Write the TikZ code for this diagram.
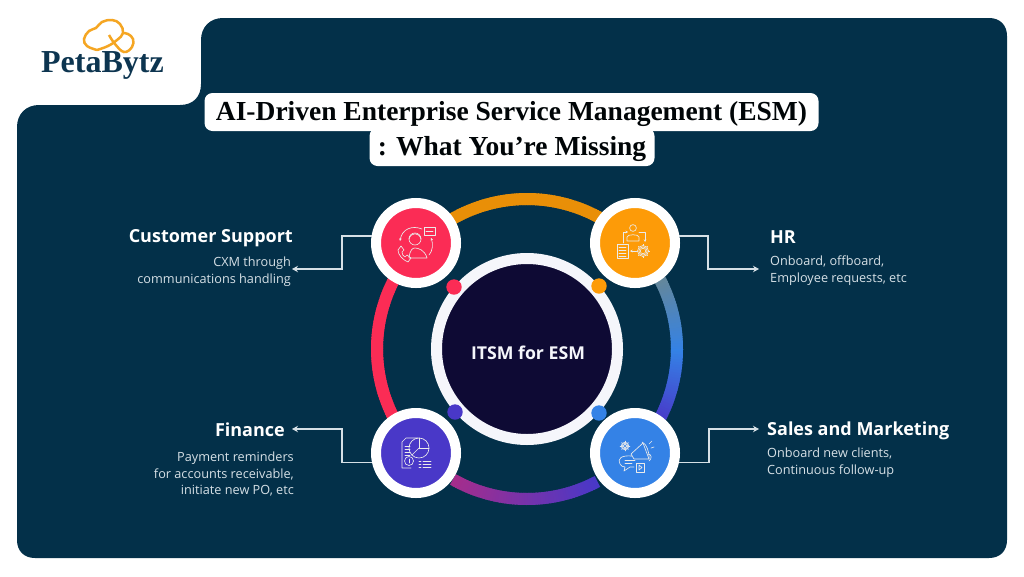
\documentclass[tikz,border=0pt]{standalone}
\usepackage{fontspec}
\usepackage{xcolor}
\setsansfont{Open Sans}
\newfontfamily\titlefont{Liberation Serif}
\usetikzlibrary{arrows.meta, calc, positioning}
\definecolor{panelnavy}{RGB}{3,48,73}
\definecolor{logonavy}{RGB}{13,53,80}
\definecolor{logoorange}{RGB}{245,166,35}
\definecolor{hubdark}{RGB}{14,10,52}
\definecolor{ringwhite}{RGB}{245,246,251}
\definecolor{accentred}{RGB}{251,44,85}
\definecolor{accentorange}{RGB}{253,155,8}
\definecolor{accentviolet}{RGB}{73,56,200}
\definecolor{accentblue}{RGB}{52,130,230}
\definecolor{ringgrey}{RGB}{100,135,155}
\definecolor{ringmagenta}{RGB}{165,45,140}
\definecolor{bodygrey}{RGB}{214,224,230}
\tikzset{
    ringline/.style={line width=12pt},
    stopcirc/.style={circle, draw=white, line width=10pt, minimum size=80pt, inner sep=0pt},
    hubcirc/.style={circle, draw=ringwhite, line width=11pt, fill=hubdark, minimum size=181pt, inner sep=0pt},
    linkarrow/.style={draw=bodygrey, line width=1.5pt, -{Stealth[length=6pt,width=6.5pt]}},
    iconline/.style={draw=white!92!black, line width=.65pt, line cap=round, line join=round},
    iconarrow/.style={iconline, -{Stealth[length=2.6pt,width=2.6pt]}},
    headtext/.style={font=\sffamily\bfseries\fontsize{18}{22}\selectfont, text=white, inner sep=0pt},
    bodytext/.style={font=\sffamily\fontsize{12.7}{16.8}\selectfont, text=bodygrey, inner sep=0pt},
    titlebox/.style={fill=white, rounded corners=8pt, inner sep=0pt},
    titletext/.style={inner sep=0pt, text=black!90!panelnavy, font=\titlefont\bfseries\fontsize{27.5}{30}\selectfont}
}
% one arc of the ring, cut in short strokes
\newcommand{\gradarc}[4]{%
    \foreach \a in {#1,...,#2}{
        \pgfmathtruncatemacro\t{100*(\a-#1)/(#2-#1)}
        \draw[ringline, color=#4!\t!#3] (\a:150) -- (\a+1.6:150);
    }
}
\newcommand{\gearglyph}[3]{%
    \draw[iconline] (#1,#2) circle (#3);
    \draw[iconline] (#1,#2) circle (#3*.5);
    \draw[iconline] (#1,#2) circle (#3*.75);
    \foreach \g in {0,45,...,315}{
        \draw[iconline] ($(#1,#2)+(\g:#3)$) -- ($(#1,#2)+(\g:#3+1.1)$);
    }
}
\begin{document}
\begin{tikzpicture}[x=1pt, y=-1pt]
    \useasboundingbox (0,0) rectangle (1024,576);
    \fill[white] (0,0) rectangle (1024,576);

    % Panel
    \fill[panelnavy] (17,127) .. controls (17,114) and (26,105) .. (39,105) -- (180,105)
        .. controls (193,105) and (201,97) .. (201,84) -- (201,40)
        .. controls (201,27) and (210,18) .. (223,18) -- (989,18)
        .. controls (1000,18) and (1007,25) .. (1007,36) -- (1007,540)
        .. controls (1007,551) and (1000,558) .. (989,558) -- (35,558)
        .. controls (24,558) and (17,551) .. (17,540) -- cycle;

    % Logo
    \draw[logoorange, line width=2.5pt] plot[smooth, tension=.7] coordinates
        {(97,50) (87,46) (84,39) (89,31) (96,28) (102,22) (112,20) (120,24) (123,33) (117,40) (108,46) (97,50)};
    \draw[logoorange, line width=2.5pt] plot[smooth, tension=.7] coordinates
        {(109,35) (115,44) (124,52) (132,47) (133,39) (128,34) (123,33)};
    \node[text=logonavy, font=\titlefont\bfseries\fontsize{32}{34}\selectfont, inner sep=0pt] (logotext) at (102.5,65) {PetaBytz};

    % Title
    \node[titlebox, minimum width=285pt, minimum height=38pt] (titleboxb) at (512,147) {};
    \node[titlebox, minimum width=614pt, minimum height=38pt] (titleboxa) at (511.5,112) {};
    \node[titletext] (titlea) at (511.5,114) {AI-Driven Enterprise Service Management (ESM)};
    \node[titletext] (titleb) at (512,148.5) {: What You’re Missing};

    % Ring
    \begin{scope}[shift={(527,349)}]
        \gradarc{225}{315}{accentorange!92!black}{accentorange}
        \gradarc{135}{225}{accentred}{accentred}
        \gradarc{-28}{0}{ringgrey}{accentblue}
        \gradarc{0}{28}{accentblue}{accentviolet}
        \gradarc{62}{118}{accentviolet}{ringmagenta}
    \end{scope}

    % Hub
    \node[hubcirc] (hub) at (527,349) {};
    \node[text=ringwhite, inner sep=0pt, font=\sffamily\bfseries\fontsize{17.7}{20}\selectfont] (hubtext) at (528,352.5) {ITSM for ESM};

    % Small dots
    \fill[accentred] (454,287) circle (7.7);
    \fill[accentorange] (599,286) circle (7.7);
    \fill[accentviolet] (455,412) circle (7.7);
    \fill[accentblue] (599,413) circle (7.7);

    % Stops
    \node[stopcirc, fill=accentred] (custcirc) at (416,243) {};
    \node[stopcirc, fill=accentorange] (hrcirc) at (635,243) {};
    \node[stopcirc, fill=accentviolet] (fincirc) at (416,453) {};
    \node[stopcirc, fill=accentblue] (salescirc) at (635,453) {};

    % Customer support icon
    \begin{scope}[shift={(416,243)}]
        \draw[iconline] (-1,-4) circle (6);
        \draw[iconline] (-7,-4) .. controls (-5,-11) and (3,-11) .. (5,-4);
        \draw[iconline] (-7,15) .. controls (-6,6) and (-3,5) .. (-1,5) .. controls (2,5) and (9,7) .. (11,15) -- cycle;
        \draw[iconline] (-15,3) -- (-18,7) .. controls (-18,12) and (-13,17) .. (-8,19) -- (-5,15) -- (-9,12) -- (-11,14) .. controls (-13,13) and (-14,11) .. (-14,9) -- (-12,7) -- cycle;
        \draw[iconline] (8,-16) rectangle (19,-8);
        \draw[iconline] (10,-12) -- (17,-12);
        \draw[iconarrow] (6,-14) .. controls (-4,-18) and (-14,-14) .. (-16,-2);
        \draw[iconarrow] (13,12) .. controls (17,8) and (17,0) .. (15,-5);
    \end{scope}

    % HR icon
    \begin{scope}[shift={(635,243)}]
        \draw[iconline] (-2,-15) circle (3.4);
        \draw[iconline] (-8,-2) -- (-8,-6) .. controls (-8,-9) and (4,-9) .. (4,-6) -- (4,-2) -- cycle;
        \draw[iconline] (-18,1) rectangle (-7,15);
        \foreach \yy in {4,7,10,13}{ \draw[iconline] (-16,\yy) -- (-9,\yy); }
        \gearglyph{8}{8}{5.5}
        \draw[iconarrow] (-12,0) -- (-12,-11) -- (-7,-11);
        \draw[iconarrow] (4,-11) -- (10,-11) -- (10,-1);
        \draw[iconarrow] (1,8) -- (-5,8);
    \end{scope}

    % Finance icon
    \begin{scope}[shift={(416,453)}]
        \draw[iconline] (-5,15) -- (-14,15) -- (-14,-11) -- (-10,-15) -- (2,-15);
        \foreach \yy in {-7,-4,-1,2}{ \draw[iconline] (-11,\yy) -- (-6,\yy); }
        \draw[iconline] (3,-5) circle (10);
        \draw[iconline] (3,-5) -- (3,-15);
        \draw[iconline] (3,-5) -- (13,-5);
        \draw[iconline] (3,-5) -- (-4,2);
        \draw[iconline, fill=accentviolet] (-7,8) circle (4.5);
        \draw[iconline] (-7,6) -- (-7,10);
        \foreach \yy in {8,11,14}{
            \draw[iconline] (3,\yy) -- (5,\yy);
            \draw[iconline] (7,\yy) -- (15,\yy);
        }
    \end{scope}

    % Sales icon
    \begin{scope}[shift={(635,453)}]
        \gearglyph{-10}{-7}{3.8}
        \draw[iconline] (-4,1) -- (8,-10) -- (14,6) -- (-1,6) -- cycle;
        \draw[iconline] (7,-11) .. controls (11,-10) and (15,0) .. (14,6);
        \draw[iconline] (13,1) .. controls (17,1) and (17,6) .. (14,8);
        \draw[iconline] (14,-9) -- (17,-12);
        \draw[iconline] (16,-5) -- (19,-6);
        \draw[iconline] (-3,3) .. controls (-14,2) and (-18,6) .. (-15,11) .. controls (-14,13) and (-12,14) .. (-10,14) -- (-11,18) -- (-5,14) -- (-1,14);
        \draw[iconline] (-10,7) -- (0,7);
        \draw[iconline] (-10,10) -- (-3,10);
        \draw[iconline] (1,10) rectangle (9,19);
        \draw[iconline] (4,12) -- (7,14.5) -- (4,17) -- cycle;
    \end{scope}

    % Connector ends
    \coordinate (custbend) at (342,269);
    \coordinate (custtip) at (292,269);
    \coordinate (hrbend) at (708,269);
    \coordinate (hrtip) at (759,269);
    \coordinate (finbend) at (342,429);
    \coordinate (fintip) at (292,429);
    \coordinate (salesbend) at (709,429);
    \coordinate (salestip) at (759,429);

    \draw[linkarrow] (custcirc.171) -| (custbend) -- (custtip);
    \draw[linkarrow] (hrcirc.9) -| (hrbend) -- (hrtip);
    \draw[linkarrow] (fincirc.-168) -| (finbend) -- (fintip);
    \draw[linkarrow] (salescirc.-12) -| (salesbend) -- (salestip);

    % Labels
    \node[headtext, anchor=east] (custhead) at (293,238) {Customer Support};
    \node[bodytext, anchor=north east, align=right] (custbody) at (291,257) {CXM through\\communications handling};
    \node[headtext, anchor=west] (hrhead) at (770,237) {HR};
    \node[bodytext, anchor=north west, align=left] (hrbody) at (770,255.5) {Onboard, offboard,\\Employee requests, etc};
    \node[headtext, anchor=east] (finhead) at (285,430) {Finance};
    \node[bodytext, anchor=north east, align=right] (finbody) at (294,451.5) {Payment reminders\\for accounts receivable,\\initiate new PO, etc};
    \node[headtext, anchor=west] (saleshead) at (767,431) {Sales and Marketing};
    \node[bodytext, anchor=north west, align=left] (salesbody) at (767,447.5) {Onboard new clients,\\Continuous follow-up};
\end{tikzpicture}
\end{document}
